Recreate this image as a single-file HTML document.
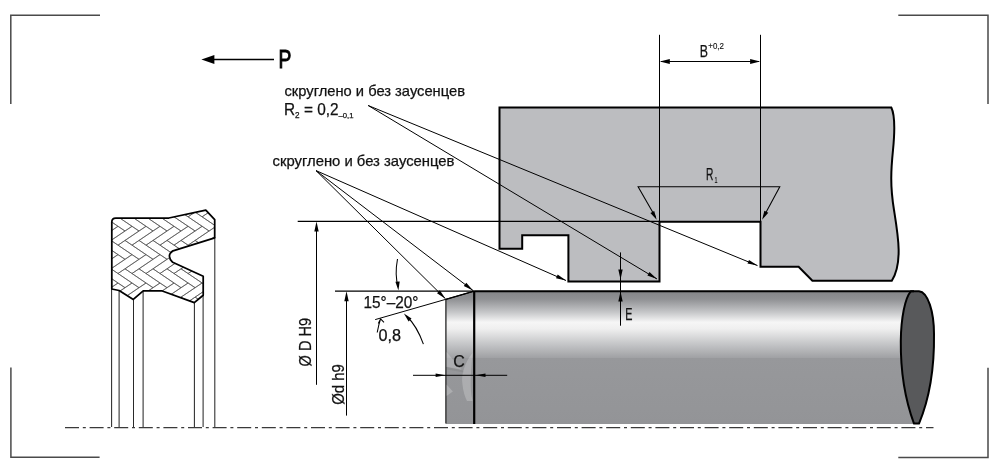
<!DOCTYPE html>
<html><head><meta charset="utf-8"><style>
html,body{margin:0;padding:0;background:#fff;}
body{width:1000px;height:472px;overflow:hidden;position:relative;}
svg{position:absolute;left:0;top:0;will-change:transform;}
text{font-family:"Liberation Sans",sans-serif;fill:#111;stroke:#111;stroke-width:0.25px;}
</style></head><body>
<svg width="1000" height="472" viewBox="0 0 1000 472">
<defs>
<linearGradient id="cyl" x1="0" y1="291" x2="0" y2="424" gradientUnits="userSpaceOnUse">
<stop offset="0" stop-color="#848588"/>
<stop offset="0.06" stop-color="#8f9093"/>
<stop offset="0.16" stop-color="#c6c7c9"/>
<stop offset="0.235" stop-color="#f6f6f6"/>
<stop offset="0.285" stop-color="#efefef"/>
<stop offset="0.40" stop-color="#c4c5c7"/>
<stop offset="0.50" stop-color="#a1a2a5"/>
<stop offset="0.505" stop-color="#97989b"/>
<stop offset="1" stop-color="#939497"/>
</linearGradient>
<clipPath id="sealclip"><path d="M111.8,222 Q111.8,218 115.8,218 H168.9 L205.8,210.2 L214.7,219.7 V237.8 L173,250.8 Q166,255.5 172.7,262.3 L203.2,276.3 V295.3 L194.3,302.6 L161.6,290.8 H143.2 L133.3,299.4 L119.1,290.5 L111.8,289 Z"/></clipPath>
</defs>
<!-- corners -->
<g stroke="#4a4a4a" stroke-width="1.5" fill="none">
<path d="M10.8,104 V15.3 H100"/>
<path d="M898.3,15.3 H988 V104"/>
<path d="M10.9,367.6 V457.3 H99.6"/>
<path d="M988,367.8 V457.5 H898.3"/>
</g>
<!-- P arrow -->
<g stroke="#000" fill="#000">
<line x1="212" y1="59.5" x2="274" y2="59.5" stroke-width="1.3"/>
<polygon points="201.4,59.5 214.4,55 214.4,64" stroke="none"/>
</g>
<text x="278.5" y="68" font-size="26" style="stroke-width:1px;stroke:#000;fill:#000" transform="translate(278.5,68) scale(0.74,1) translate(-278.5,-68)">P</text>
<!-- seal lines below -->
<g stroke="#2a2a2a" stroke-width="1.05">
<line x1="111.6" y1="289" x2="111.6" y2="427"/>
<line x1="119.1" y1="290.5" x2="119.1" y2="427"/>
<line x1="133.5" y1="299" x2="133.5" y2="427"/>
<line x1="143.1" y1="291" x2="143.1" y2="427"/>
<line x1="194.4" y1="302" x2="194.4" y2="427"/>
<line x1="203.1" y1="295" x2="203.1" y2="427"/>
<line x1="214.8" y1="237" x2="214.8" y2="427"/>
</g>
<!-- seal -->
<path d="M111.8,222 Q111.8,218 115.8,218 H168.9 L205.8,210.2 L214.7,219.7 V237.8 L173,250.8 Q166,255.5 172.7,262.3 L203.2,276.3 V295.3 L194.3,302.6 L161.6,290.8 H143.2 L133.3,299.4 L119.1,290.5 L111.8,289 Z" fill="#fff"/>
<g clip-path="url(#sealclip)" stroke="#555" stroke-width="0.7" fill="none"><path d="M153.0,268.8L160.0,273.5M209.1,212.1L230.1,226.3M209.1,268.8L230.1,283.0M90.0,301.9L111.0,316.0M167.0,259.3L174.0,254.6M174.0,245.2L195.1,231.0M202.1,283.0L209.1,287.7M195.1,240.4L216.1,226.3M160.0,273.5L167.0,268.8M139.0,240.4L146.0,245.2M167.0,268.8L188.1,254.6M132.0,197.9L139.0,202.6M167.0,240.4L174.0,245.2M111.0,202.6L118.0,197.9M160.0,245.2L181.0,231.0M146.0,188.4L167.0,202.6M195.1,240.4L202.1,245.2M146.0,254.6L153.0,259.3M188.1,301.9L209.1,316.0M195.1,268.8L216.1,283.0M125.0,259.3L132.0,254.6M153.0,212.1L174.0,226.3M181.0,240.4L202.1,226.3M209.1,297.1L216.1,301.9M167.0,240.4L188.1,226.3M188.1,216.8L209.1,231.0M146.0,245.2L167.0,259.3M132.0,301.9L153.0,316.0M188.1,245.2L195.1,240.4M139.0,259.3L146.0,254.6M195.1,240.4L216.1,254.6M209.1,212.1L216.1,216.8M83.0,212.1L104.0,197.9M146.0,197.9L153.0,202.6M139.0,202.6L146.0,197.9M160.0,301.9L181.0,287.7M97.0,240.4L118.0,254.6M104.0,254.6L111.0,259.3M209.1,240.4L230.1,254.6M90.0,273.5L111.0,287.7M153.0,259.3L160.0,254.6M209.1,259.3L216.1,254.6M118.0,197.9L125.0,202.6M188.1,245.2L209.1,231.0M118.0,301.9L139.0,316.0M97.0,259.3L104.0,254.6M146.0,245.2L167.0,231.0M209.1,212.1L230.1,197.9M195.1,297.1L202.1,301.9M202.1,216.8L223.1,231.0M188.1,188.4L209.1,202.6M160.0,188.4L181.0,202.6M174.0,301.9L181.0,297.1M202.1,245.2L223.1,231.0M83.0,268.8L104.0,283.0M104.0,197.9L111.0,202.6M202.1,216.8L223.1,202.6M132.0,273.5L153.0,287.7M118.0,245.2L139.0,231.0M146.0,245.2L153.0,240.4M153.0,231.0L160.0,226.3M216.1,301.9L223.1,297.1M146.0,226.3L153.0,231.0M97.0,240.4L104.0,245.2M209.1,297.1L230.1,311.3M209.1,202.6L216.1,197.9M216.1,273.5L237.1,259.3M188.1,245.2L209.1,259.3M132.0,216.8L153.0,231.0M216.1,216.8L237.1,202.6M195.1,212.1L202.1,216.8M97.0,268.8L118.0,283.0M202.1,216.8L209.1,212.1M202.1,301.9L223.1,316.0M223.1,297.1L230.1,301.9M118.0,245.2L125.0,240.4M174.0,301.9L195.1,287.7M139.0,231.0L146.0,226.3M111.0,259.3L118.0,254.6M174.0,245.2L195.1,259.3M125.0,240.4L146.0,254.6M174.0,226.3L181.0,231.0M153.0,297.1L174.0,283.0M132.0,216.8L139.0,212.1M167.0,297.1L174.0,301.9M97.0,240.4L118.0,226.3M216.1,283.0L223.1,287.7M139.0,240.4L160.0,226.3M174.0,273.5L195.1,287.7M181.0,268.8L202.1,283.0M188.1,301.9L209.1,287.7M104.0,301.9L125.0,287.7M104.0,188.4L125.0,202.6M153.0,240.4L174.0,226.3M181.0,202.6L188.1,197.9M181.0,297.1L202.1,311.3M132.0,226.3L139.0,231.0M132.0,283.0L139.0,287.7M195.1,259.3L202.1,254.6M174.0,301.9L195.1,316.0M167.0,297.1L188.1,311.3M104.0,245.2L111.0,240.4M202.1,273.5L223.1,259.3M209.1,240.4L216.1,245.2M83.0,297.1L104.0,311.3M167.0,287.7L174.0,283.0M216.1,245.2L237.1,259.3M90.0,188.4L111.0,202.6M104.0,301.9L111.0,297.1M223.1,202.6L230.1,197.9M132.0,216.8L153.0,202.6M83.0,297.1L104.0,283.0M223.1,268.8L244.1,283.0M174.0,273.5L181.0,268.8M83.0,240.4L104.0,254.6M160.0,197.9L167.0,202.6M111.0,240.4L132.0,226.3M104.0,283.0L111.0,287.7M104.0,301.9L125.0,316.0M202.1,254.6L209.1,259.3M216.1,301.9L237.1,316.0M223.1,297.1L244.1,311.3M125.0,297.1L146.0,311.3M188.1,197.9L195.1,202.6M174.0,216.8L195.1,231.0M125.0,268.8L146.0,283.0M181.0,297.1L188.1,301.9M139.0,297.1L160.0,283.0M153.0,202.6L160.0,197.9M153.0,268.8L174.0,283.0M118.0,283.0L125.0,287.7M223.1,259.3L230.1,254.6M132.0,301.9L153.0,287.7M139.0,287.7L146.0,283.0M146.0,273.5L167.0,259.3M90.0,245.2L111.0,231.0M160.0,216.8L181.0,231.0M97.0,268.8L104.0,273.5M146.0,301.9L167.0,316.0M188.1,273.5L209.1,259.3M202.1,273.5L223.1,287.7M223.1,268.8L230.1,273.5M181.0,212.1L202.1,226.3M167.0,212.1L188.1,226.3M125.0,287.7L132.0,283.0M118.0,216.8L139.0,231.0M97.0,297.1L118.0,283.0M104.0,273.5L111.0,268.8M181.0,287.7L188.1,283.0M132.0,301.9L139.0,297.1M153.0,212.1L174.0,197.9M146.0,301.9L153.0,297.1M125.0,297.1L132.0,301.9M188.1,273.5L195.1,268.8M174.0,254.6L181.0,259.3M125.0,268.8L132.0,273.5M83.0,212.1L104.0,226.3M160.0,273.5L181.0,287.7M97.0,231.0L104.0,226.3M153.0,297.1L160.0,301.9M111.0,287.7L118.0,283.0M97.0,212.1L104.0,216.8M111.0,268.8L132.0,283.0M195.1,202.6L202.1,197.9M146.0,216.8L153.0,212.1M188.1,226.3L195.1,231.0M153.0,297.1L174.0,311.3M181.0,212.1L188.1,216.8M167.0,268.8L188.1,283.0M216.1,254.6L223.1,259.3M125.0,212.1L146.0,226.3M174.0,197.9L181.0,202.6M125.0,268.8L146.0,254.6M181.0,231.0L188.1,226.3M181.0,240.4L188.1,245.2M132.0,254.6L139.0,259.3M223.1,240.4L244.1,226.3M104.0,273.5L125.0,259.3M160.0,254.6L167.0,259.3M104.0,216.8L125.0,231.0M195.1,268.8L216.1,254.6M90.0,216.8L111.0,202.6M223.1,231.0L230.1,226.3M216.1,226.3L223.1,231.0M111.0,212.1L132.0,197.9M153.0,240.4L174.0,254.6M188.1,273.5L209.1,287.7M83.0,268.8L104.0,254.6M118.0,273.5L125.0,268.8M118.0,301.9L125.0,297.1M118.0,188.4L139.0,202.6M216.1,188.4L237.1,202.6M132.0,188.4L153.0,202.6M111.0,268.8L132.0,254.6M209.1,231.0L216.1,226.3M216.1,245.2L223.1,240.4M181.0,259.3L188.1,254.6M223.1,297.1L244.1,283.0M139.0,268.8L146.0,273.5M209.1,240.4L230.1,226.3M132.0,273.5L139.0,268.8M90.0,273.5L111.0,259.3M167.0,268.8L174.0,273.5M125.0,202.6L132.0,197.9M209.1,297.1L230.1,283.0M139.0,212.1L160.0,226.3M90.0,245.2L111.0,259.3M139.0,268.8L160.0,254.6M139.0,268.8L160.0,283.0M195.1,231.0L202.1,226.3M202.1,226.3L209.1,231.0M153.0,240.4L160.0,245.2M104.0,226.3L111.0,231.0M160.0,226.3L167.0,231.0M139.0,297.1L160.0,311.3M90.0,216.8L111.0,231.0M97.0,212.1L118.0,226.3M132.0,273.5L153.0,259.3M181.0,240.4L202.1,254.6M97.0,202.6L104.0,197.9M202.1,245.2L223.1,259.3M188.1,301.9L195.1,297.1M195.1,297.1L216.1,283.0M125.0,240.4L132.0,245.2M202.1,301.9L209.1,297.1M188.1,216.8L195.1,212.1M139.0,297.1L146.0,301.9M160.0,216.8L167.0,212.1M97.0,268.8L118.0,254.6M160.0,301.9L181.0,316.0M216.1,216.8L237.1,231.0M202.1,245.2L209.1,240.4M181.0,297.1L202.1,283.0M139.0,212.1L146.0,216.8M202.1,197.9L209.1,202.6M195.1,212.1L216.1,197.9M188.1,283.0L195.1,287.7M181.0,268.8L202.1,254.6M146.0,283.0L153.0,287.7M216.1,273.5L223.1,268.8M216.1,301.9L237.1,287.7M223.1,212.1L244.1,197.9M125.0,240.4L146.0,226.3M125.0,297.1L146.0,283.0M202.1,301.9L223.1,287.7M160.0,301.9L167.0,297.1M167.0,231.0L174.0,226.3M174.0,216.8L195.1,202.6M195.1,212.1L216.1,226.3M209.1,287.7L216.1,283.0M195.1,287.7L202.1,283.0M174.0,188.4L195.1,202.6M188.1,216.8L209.1,202.6M111.0,297.1L118.0,301.9M118.0,245.2L139.0,259.3M216.1,197.9L223.1,202.6M139.0,212.1L160.0,197.9M167.0,297.1L188.1,283.0M174.0,283.0L181.0,287.7M104.0,245.2L125.0,231.0M160.0,216.8L181.0,202.6M146.0,273.5L153.0,268.8M223.1,287.7L230.1,283.0M174.0,216.8L181.0,212.1M132.0,245.2L153.0,231.0M111.0,240.4L118.0,245.2M160.0,283.0L167.0,287.7M167.0,212.1L188.1,197.9M181.0,268.8L188.1,273.5M83.0,240.4L104.0,226.3M125.0,231.0L132.0,226.3M188.1,254.6L195.1,259.3M118.0,226.3L125.0,231.0M209.1,268.8L230.1,254.6M111.0,231.0L118.0,226.3M90.0,301.9L111.0,287.7M146.0,216.8L167.0,202.6M202.1,273.5L209.1,268.8M111.0,297.1L132.0,283.0M216.1,216.8L223.1,212.1M132.0,245.2L139.0,240.4M223.1,212.1L230.1,216.8M223.1,268.8L244.1,254.6M160.0,245.2L181.0,259.3M118.0,254.6L125.0,259.3M174.0,273.5L195.1,259.3M118.0,273.5L139.0,287.7M167.0,212.1L174.0,216.8M223.1,212.1L244.1,226.3M97.0,212.1L118.0,197.9M104.0,216.8L125.0,202.6M104.0,245.2L125.0,259.3M146.0,301.9L167.0,287.7M111.0,212.1L118.0,216.8M97.0,287.7L104.0,283.0M97.0,297.1L104.0,301.9M118.0,273.5L139.0,259.3M195.1,268.8L202.1,273.5M223.1,240.4L244.1,254.6M118.0,301.9L139.0,287.7M104.0,273.5L125.0,287.7M153.0,212.1L160.0,216.8M216.1,273.5L237.1,287.7M153.0,268.8L174.0,254.6M125.0,212.1L146.0,197.9M181.0,212.1L202.1,197.9M132.0,245.2L153.0,259.3M139.0,240.4L160.0,254.6M111.0,297.1L132.0,311.3M118.0,216.8L139.0,202.6M216.1,245.2L237.1,231.0M174.0,245.2L181.0,240.4M202.1,188.4L223.1,202.6M111.0,212.1L132.0,226.3M167.0,240.4L188.1,254.6M97.0,297.1L118.0,311.3M160.0,245.2L167.0,240.4M104.0,216.8L111.0,212.1M111.0,268.8L118.0,273.5M111.0,240.4L132.0,254.6M195.1,297.1L216.1,311.3M209.1,268.8L216.1,273.5M223.1,240.4L230.1,245.2M153.0,287.7L160.0,283.0M146.0,216.8L167.0,231.0M160.0,273.5L181.0,259.3M146.0,273.5L167.0,287.7M125.0,212.1L132.0,216.8M118.0,216.8L125.0,212.1M167.0,202.6L174.0,197.9"/></g>
<path d="M111.8,222 Q111.8,218 115.8,218 H168.9 L205.8,210.2 L214.7,219.7 V237.8 L173,250.8 Q166,255.5 172.7,262.3 L203.2,276.3 V295.3 L194.3,302.6 L161.6,290.8 H143.2 L133.3,299.4 L119.1,290.5 L111.8,289 Z" fill="none" stroke="#000" stroke-width="1.75" stroke-linejoin="round"/>
<!-- block -->
<path d="M499.5,107.5 H891.3 C895,115 895,130 893,150 C891,170 890,185 894,210 C898,235 903,263 891.8,280.8 H812.4 L798.6,266.8 H760.5 V221.8 H659.5 V281.4 H568.4 V235.2 H522.2 V248.7 H499.5 Z" fill="#bcbdc0" stroke="#000" stroke-width="2" stroke-linejoin="miter"/>
<!-- cylinder -->
<path d="M445.9,299.3 L474.1,291.2 H915 V424 H445.9 Z" fill="url(#cyl)"/>
<path d="M914,423.6 C906,402 900.5,372 900.8,341 C901,318 905,298 911,291.2 H919 C928,292 934,312 934,334 C934.5,372 928,402 919,423.6 Z" fill="#58595b" stroke="#000" stroke-width="2" stroke-linejoin="round"/>
<g stroke="#000" fill="none">
<path d="M474.1,291.2 H914" stroke-width="2"/>
<line x1="474.2" y1="291" x2="474.2" y2="424" stroke-width="2.2"/>
<line x1="445.9" y1="299.3" x2="445.9" y2="423.5" stroke-width="1.4" stroke="#333"/>
<line x1="474.1" y1="291.2" x2="445.9" y2="299.3" stroke-width="1.3"/>
</g>
<g fill="#fff" fill-opacity="0.22">
<path d="M472.5,353 C465,362 461,374 462.4,384 C463,391 465,397 467,401 L472.6,401 C471,395 470.5,388 470.7,381 C471,370 472,360 472.5,353 Z"/>
<path d="M446.5,352 L461.8,370 L446.5,367 Z"/>
<path d="M446.5,384.5 L452.9,391.5 L446.5,396 Z"/>
</g>
<path d="M446.5,366.5 L462,369.5 L464,372.5 L446.5,369.5 Z" fill="#000" fill-opacity="0.06"/>
<!-- centre line -->
<line x1="65" y1="427.7" x2="933.5" y2="427.7" stroke="#3a3a3a" stroke-width="1.3" stroke-dasharray="14,3.8,3,3.8"/>
<!-- thin dimension lines -->
<g stroke="#000" stroke-width="1.05" fill="none">
<line x1="659.5" y1="34.8" x2="659.5" y2="221.8" stroke-width="1"/><line x1="760.5" y1="34.8" x2="760.5" y2="221.8" stroke-width="1"/><line x1="661" y1="61.5" x2="759" y2="61.5" stroke-width="1"/><path d="M655.5,217 L638.1,186.7 H779.8 L763.5,217" fill="none"/><line x1="297.7" y1="221.3" x2="659.5" y2="221.3" stroke-width="1.2"/><line x1="335" y1="291.2" x2="474" y2="291.2" stroke-width="1.2"/><line x1="316.5" y1="226" x2="316.5" y2="384.8" stroke-width="1"/><line x1="346.5" y1="296" x2="346.5" y2="415.6" stroke-width="1"/><line x1="474.1" y1="291.2" x2="375.2" y2="319.6" stroke-width="1"/><path d="M397.5,259 Q394.5,275 398.2,287" fill="none"/><path d="M377.2,332.5 Q378.8,324 380.6,318.8 M378.3,323.4 L380.6,318.8 L384,322.3" fill="none"/><path d="M423.4,344.2 Q417,326 406.5,316" fill="none"/><line x1="413" y1="375.3" x2="507.2" y2="375.3" stroke-width="1"/><line x1="620.5" y1="252.4" x2="620.5" y2="325.7" stroke-width="1"/><line x1="368.2" y1="105.5" x2="757.5" y2="265.6" stroke-width="1"/><line x1="368.2" y1="105.5" x2="657" y2="279" stroke-width="1"/><line x1="316" y1="170.6" x2="566" y2="280.5" stroke-width="1"/><line x1="316" y1="170.6" x2="473" y2="290.5" stroke-width="1"/><line x1="316" y1="170.6" x2="445.5" y2="298.8" stroke-width="1"/>
</g>
<g fill="#000" stroke="none">
<polygon points="659.8,61.5 669.8,59.1 669.8,63.9"/><polygon points="760.1,61.5 750.1,63.9 750.1,59.1"/><polygon points="656.7,219.8 650.4,213.0 654.2,210.9"/><polygon points="762.1,219.7 764.4,210.7 768.3,212.8"/><polygon points="316.5,221.6 318.7,231.6 314.3,231.6"/><polygon points="346.5,291.2 348.7,301.2 344.3,301.2"/><polygon points="398.4,290.6 395.4,281.8 399.7,281.4"/><polygon points="403.9,313.4 411.5,318.6 408.6,321.4"/><polygon points="445.6,375.3 435.6,377.1 435.6,373.5"/><polygon points="475.5,375.3 485.5,373.5 485.5,377.1"/><polygon points="620.5,279.5 618.3,269.5 622.7,269.5"/><polygon points="620.5,291.5 622.7,301.5 618.3,301.5"/><polygon points="757.5,265.6 747.5,263.6 749.0,259.9"/><polygon points="657.0,279.0 647.4,275.6 649.5,272.1"/><polygon points="566.0,280.5 556.0,278.3 557.7,274.6"/><polygon points="473.0,290.5 463.8,286.0 466.3,282.8"/><polygon points="445.5,298.8 437.0,293.2 439.8,290.3"/>
</g>
<!-- texts -->
<text x="284.5" y="96" font-size="14.5" textLength="180.5" lengthAdjust="spacingAndGlyphs">скруглено и без заусенцев</text>
<text x="272.5" y="165.5" font-size="14.5" textLength="182" lengthAdjust="spacingAndGlyphs">скруглено и без заусенцев</text>
<text x="284" y="115.3" font-size="16" textLength="69.5" lengthAdjust="spacingAndGlyphs">R<tspan font-size="8.5" dy="3">2</tspan><tspan dy="-3"> = 0,2</tspan><tspan font-size="8" dy="3">–0,1</tspan></text>
<text x="699.8" y="56.8" font-size="16" textLength="8.2" lengthAdjust="spacingAndGlyphs">B</text><text x="708.3" y="49.4" font-size="9.5" textLength="15.6" lengthAdjust="spacingAndGlyphs" style="stroke-width:0.15px">+0,2</text>
<text x="706" y="180.2" font-size="16.2" textLength="7.4" lengthAdjust="spacingAndGlyphs">R</text><text x="714.4" y="183.4" font-size="8.6" textLength="3" lengthAdjust="spacingAndGlyphs" style="stroke-width:0.15px">1</text>
<text x="363.5" y="307.8" font-size="16" textLength="55" lengthAdjust="spacingAndGlyphs">15°–20°</text>
<text x="378.5" y="341" font-size="16" textLength="22.5" lengthAdjust="spacingAndGlyphs">0,8</text>
<text x="453.3" y="366.7" font-size="16">C</text>
<text x="625.3" y="320" font-size="16.5" textLength="7.2" lengthAdjust="spacingAndGlyphs">E</text>
<text transform="translate(311.4,366.4) rotate(-90)" font-size="16" textLength="48.4" lengthAdjust="spacingAndGlyphs">Ø D H9</text>
<text transform="translate(343.9,404.8) rotate(-90)" font-size="16.3" textLength="40.6" lengthAdjust="spacingAndGlyphs">Ød h9</text>
</svg>
</body></html>
